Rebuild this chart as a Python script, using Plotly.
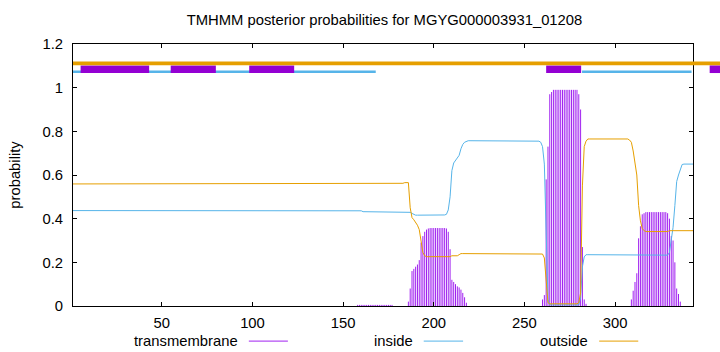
import plotly.graph_objects as go

# ---------------- data ----------------
residues = list(range(1, 344))

inside = (
    [0.437] * 10 + [0.437] * 10 + [0.437] * 10 + [0.437] * 10 + [0.437] * 10 +   # 1-50
    [0.437] * 10 + [0.437] * 10 + [0.437] * 10 + [0.437] * 10 + [0.437] * 10 +   # 51-100
    [0.437] * 10 + [0.437] * 10 + [0.437] * 10 + [0.437] * 10 + [0.437] * 10 +   # 101-150
    [0.436] * 10 +                                                              # 151-160
    [0.432] * 10 + [0.432] * 10 +                                               # 161-180
    [0.432, 0.432, 0.432, 0.432, 0.432, 0.432, 0.429, 0.424, 0.42, 0.416] +     # 181-190
    [0.416] * 10 +                                                              # 191-200
    [0.416, 0.416, 0.416, 0.416, 0.416, 0.417, 0.42, 0.44, 0.50, 0.62] +        # 201-210
    [0.655, 0.665, 0.675, 0.69, 0.72, 0.74, 0.75, 0.755, 0.757, 0.757] +        # 211-220
    [0.757] * 10 + [0.757] * 10 + [0.757] * 10 +                                # 221-250
    [0.757, 0.757, 0.757, 0.757, 0.757, 0.757, 0.757, 0.755, 0.75, 0.73] +      # 251-260
    [0.65, 0.30, 0.03, 0.005, 0.005, 0.005, 0.005, 0.005, 0.005, 0.005] +       # 261-270
    [0.005] * 10 +                                                              # 271-280
    [0.04, 0.18, 0.225, 0.235, 0.235, 0.235, 0.235, 0.235, 0.235, 0.235] +      # 281-290
    [0.235] * 10 +                                                              # 291-300
    [0.235, 0.235, 0.235, 0.235, 0.235, 0.232, 0.232, 0.232, 0.232, 0.232] +    # 301-310
    [0.232] * 10 +                                                              # 311-320
    [0.232, 0.232, 0.232, 0.232, 0.232, 0.232, 0.232, 0.232, 0.233, 0.245] +    # 321-330
    [0.30, 0.36, 0.46, 0.57, 0.60, 0.63, 0.648, 0.65, 0.65, 0.65] +             # 331-340
    [0.65, 0.65, 0.65]                                                          # 341-343
)

outside = (
    [0.559] * 10 + [0.559] * 10 + [0.559] * 10 + [0.559] * 10 + [0.559] * 10 +   # 1-50
    [0.559] * 10 + [0.559] * 10 + [0.559] * 10 + [0.559] * 10 + [0.559] * 10 +   # 51-100
    [0.559] * 10 + [0.559] * 10 + [0.559] * 10 + [0.559] * 10 + [0.559] * 10 +   # 101-150
    [0.559] * 10 + [0.559] * 10 +                                               # 151-170
    [0.559, 0.559, 0.559, 0.559, 0.559, 0.562, 0.562, 0.562, 0.562, 0.562] +    # 171-180
    [0.562, 0.562, 0.562, 0.565, 0.565, 0.565, 0.45, 0.405, 0.395, 0.385] +     # 181-190
    [0.37, 0.35, 0.30, 0.245, 0.23, 0.226, 0.226, 0.226, 0.226, 0.226] +        # 191-200
    [0.226, 0.226, 0.226, 0.226, 0.226, 0.226, 0.226, 0.226, 0.226, 0.23] +     # 201-210
    [0.23, 0.23, 0.23, 0.235, 0.24, 0.24, 0.24, 0.24, 0.24, 0.24] +             # 211-220
    [0.24] * 10 + [0.24] * 10 + [0.24] * 10 +                                   # 221-250
    [0.24, 0.24, 0.24, 0.24, 0.24, 0.24, 0.24, 0.24, 0.24, 0.238] +             # 251-260
    [0.22, 0.10, 0.015, 0.01, 0.01, 0.01, 0.01, 0.01, 0.01, 0.01] +             # 261-270
    [0.01, 0.01, 0.01, 0.01, 0.01, 0.01, 0.01, 0.01, 0.01, 0.015] +             # 271-280
    [0.06, 0.55, 0.73, 0.755, 0.765, 0.765, 0.765, 0.765, 0.765, 0.765] +       # 281-290
    [0.765] * 10 +                                                              # 291-300
    [0.765, 0.765, 0.765, 0.765, 0.765, 0.765, 0.765, 0.76, 0.75, 0.71] +       # 301-310
    [0.66, 0.60, 0.46, 0.39, 0.355, 0.345, 0.341, 0.341, 0.341, 0.341] +        # 311-320
    [0.341, 0.341, 0.341, 0.341, 0.341, 0.341, 0.341, 0.341, 0.341, 0.345] +    # 321-330
    [0.345] * 10 +                                                              # 331-340
    [0.345, 0.345, 0.345]                                                       # 341-343
)

transmembrane = (
    [0.0] * 10 + [0.0] * 10 + [0.0] * 10 + [0.0] * 10 + [0.0] * 10 +             # 1-50
    [0.0] * 10 + [0.0] * 10 + [0.0] * 10 + [0.0] * 10 + [0.0] * 10 +             # 51-100
    [0.0] * 10 + [0.0] * 10 + [0.0] * 10 + [0.0] * 10 + [0.0] * 10 +             # 101-150
    [0.0, 0.0, 0.0, 0.0, 0.0, 0.0, 0.0, 0.005, 0.005, 0.005] +                  # 151-160
    [0.005] * 10 +                                                              # 161-170
    [0.005, 0.005, 0.005, 0.005, 0.005, 0.005, 0.005, 0.0, 0.0, 0.0] +          # 171-180
    [0.0, 0.0, 0.0, 0.0, 0.0, 0.02, 0.08, 0.16, 0.17, 0.18] +                   # 181-190
    [0.19, 0.21, 0.29, 0.32, 0.34, 0.35, 0.355, 0.357, 0.357, 0.357] +          # 191-200
    [0.357, 0.357, 0.357, 0.357, 0.357, 0.357, 0.355, 0.34, 0.26, 0.12] +       # 201-210
    [0.11, 0.10, 0.09, 0.085, 0.075, 0.06, 0.04, 0.015, 0.0, 0.0] +             # 211-220
    [0.0] * 10 + [0.0] * 10 + [0.0] * 10 +                                      # 221-250
    [0.0, 0.0, 0.0, 0.0, 0.0, 0.0, 0.0, 0.0, 0.0, 0.03] +                       # 251-260
    [0.05, 0.58, 0.73, 0.97, 0.98, 0.99, 0.99, 0.99, 0.99, 0.99] +              # 261-270
    [0.99, 0.99, 0.99, 0.99, 0.99, 0.99, 0.99, 0.99, 0.99, 0.97] +              # 271-280
    [0.90, 0.27, 0.03, 0.01, 0.0, 0.0, 0.0, 0.0, 0.0, 0.0] +                    # 281-290
    [0.0] * 10 +                                                                # 291-300
    [0.0, 0.0, 0.0, 0.0, 0.0, 0.0, 0.0, 0.0, 0.03, 0.07] +                      # 301-310
    [0.11, 0.15, 0.31, 0.365, 0.42, 0.425, 0.43, 0.43, 0.43, 0.43] +            # 311-320
    [0.43, 0.43, 0.43, 0.43, 0.43, 0.43, 0.43, 0.43, 0.425, 0.40] +             # 321-330
    [0.32, 0.30, 0.20, 0.08, 0.055, 0.02, 0.0, 0.0, 0.0, 0.0] +                 # 331-340
    [0.0, 0.0, 0.0]                                                             # 341-343
)

# topology bar drawn above the curves (start, end residue)
top_tm_segments = [(5.2, 43.0), (54.9, 79.8), (98.2, 123.0), (262.0, 281.3), (352.2, 362.0)]
top_inside_segments = [(1.0, 168.0), (281.8, 342.2)]
top_outside_segments = [(1.0, 362.0)]
top_levels = {"outside": 1.111, "inside": 1.073, "tm_low": 1.067, "tm_high": 1.102}

x_ticks = [50, 100, 150, 200, 250, 300]
y_ticks = [0, 0.2, 0.4, 0.6, 0.8, 1.0, 1.2]
y_tick_text = ["0", "0.2", "0.4", "0.6", "0.8", "1", "1.2"]

title_text = "TMHMM posterior probabilities for MGYG000003931_01208"
legend_names = ["transmembrane", "inside", "outside"]

# ---------------- styles ----------------
C_TM_BOX = "#9400d3"
C_TM = "#a020f0"
C_IN = "#56b4e9"
C_OUT = "#e69f00"
FONT = "Liberation Sans"
FS = 14.8
X_RANGE = [1, 343]
Y_RANGE = [0, 1.2]

# impulses built from the transmembrane series
imp_x, imp_y = [], []
for r, v in zip(residues, transmembrane):
    if v > 0:
        imp_x += [r, r, None]
        imp_y += [0, v, None]

fig = go.Figure()
fig.add_trace(go.Scatter(x=imp_x, y=imp_y, mode="lines",
                         line=dict(color=C_TM, width=1), showlegend=False,
                         name=legend_names[0]))
fig.add_trace(go.Scatter(x=residues, y=inside, mode="lines",
                         line=dict(color=C_IN, width=1), showlegend=False,
                         name=legend_names[1]))
fig.add_trace(go.Scatter(x=residues, y=outside, mode="lines",
                         line=dict(color=C_OUT, width=1), showlegend=False,
                         name=legend_names[2]))


def px(v):
    return (v - X_RANGE[0]) / (X_RANGE[1] - X_RANGE[0])


def py(v):
    return (v - Y_RANGE[0]) / (Y_RANGE[1] - Y_RANGE[0])


shapes = []
for a, b in top_inside_segments:
    shapes.append(dict(type="line", xref="paper", yref="paper",
                       x0=px(a), x1=px(b), y0=py(top_levels["inside"]), y1=py(top_levels["inside"]),
                       line=dict(color=C_IN, width=2.7), layer="above"))
for a, b in top_tm_segments:
    shapes.append(dict(type="rect", xref="paper", yref="paper",
                       x0=px(a), x1=px(b), y0=py(top_levels["tm_low"]), y1=py(top_levels["tm_high"]),
                       fillcolor=C_TM_BOX, line=dict(width=0), layer="above"))
for a, b in top_outside_segments:
    shapes.append(dict(type="line", xref="paper", yref="paper",
                       x0=px(a), x1=px(b), y0=py(top_levels["outside"]), y1=py(top_levels["outside"]),
                       line=dict(color=C_OUT, width=3.8), layer="above"))

# gnuplot-style legend: text then sample line
legend_y = -0.134
legend_text_right = [0.2691, 0.5509, 0.8342]
legend_sample = [(0.2836, 0.3466), (0.5657, 0.6292), (0.8487, 0.9117)]
legend_colors = [C_TM, C_IN, C_OUT]
annotations = []
for name, xr, (s0, s1), col in zip(legend_names, legend_text_right, legend_sample, legend_colors):
    annotations.append(dict(text=name, x=xr, y=legend_y, xref="paper", yref="paper",
                            xanchor="right", yanchor="middle", showarrow=False,
                            font=dict(family=FONT, size=FS, color="black")))
    shapes.append(dict(type="line", xref="paper", yref="paper", x0=s0, x1=s1,
                       y0=legend_y, y1=legend_y, line=dict(color=col, width=1)))

annotations.append(dict(text="probability", x=-0.094, y=0.5, xref="paper", yref="paper",
                        textangle=-90, showarrow=False, xanchor="center", yanchor="middle",
                        font=dict(family=FONT, size=FS, color="black")))

fig.update_layout(
    width=720, height=352,
    margin=dict(l=73, r=27, t=44, b=46),
    paper_bgcolor="white", plot_bgcolor="white",
    showlegend=False,
    title=dict(text=title_text, x=0.534, xanchor="center", y=1 - 20 / 352, yanchor="middle",
               font=dict(family=FONT, size=FS, color="black")),
    font=dict(family=FONT, size=FS, color="black"),
    shapes=shapes, annotations=annotations,
)
fig.update_xaxes(range=X_RANGE, tickvals=x_ticks, ticks="inside", ticklen=4, tickcolor="black",
                 showline=True, linecolor="black", linewidth=1, mirror="ticks",
                 showgrid=False, zeroline=False, ticklabelstandoff=3,
                 tickfont=dict(family=FONT, size=FS, color="black"))
fig.update_yaxes(range=Y_RANGE, tickvals=y_ticks, ticktext=y_tick_text, ticks="inside", ticklen=4,
                 tickcolor="black", showline=True, linecolor="black", linewidth=1, mirror="ticks",
                 showgrid=False, zeroline=False, ticklabelstandoff=6,
                 tickfont=dict(family=FONT, size=FS, color="black"))

fig.write_html("out.html")
